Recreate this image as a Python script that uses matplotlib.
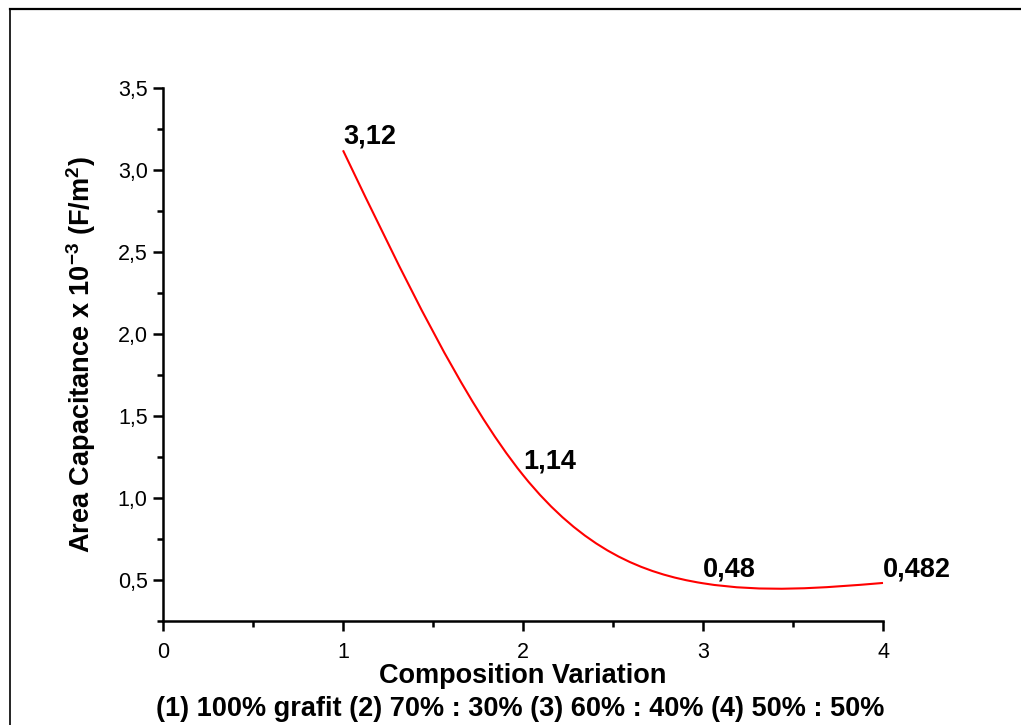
import numpy as np
import matplotlib
matplotlib.use("Agg")
import matplotlib.pyplot as plt
from matplotlib.path import Path
from matplotlib.patches import PathPatch
from matplotlib.lines import Line2D
from matplotlib.ticker import MultipleLocator, FuncFormatter

plt.rcParams['font.family'] = ['Liberation Sans', 'DejaVu Sans']
plt.rcParams['mathtext.fontset'] = 'custom'
plt.rcParams['mathtext.rm'] = 'Liberation Sans'
plt.rcParams['mathtext.bf'] = 'Liberation Sans:bold'
plt.rcParams['mathtext.it'] = 'Liberation Sans:italic'

# ---- data ----
composition = [1, 2, 3, 4]
capacitance = [3.12, 1.14, 0.48, 0.482]
point_labels = ["3,12", "1,14", "0,48", "0,482"]
x_ticks = [0, 1, 2, 3, 4]
y_ticks = [0.5, 1.0, 1.5, 2.0, 2.5, 3.0, 3.5]
x_label = "Composition Variation"
x_note = "(1) 100% grafit (2) 70% : 30% (3) 60% : 40% (4) 50% : 50%"
y_label = r"Area Capacitance x 10$^{\mathbf{-3}}$ (F/m$^{\mathbf{2}}$)"

BOLD = 19.5

fig = plt.figure(figsize=(10.21, 7.25), dpi=100)
ax = fig.add_axes([163/1021, 1-621/725, 720/1021, 533/725])

# smooth "spline" connection through the 4 data points (natural cubic spline
# rendered as Bezier segments in data coordinates)
xs = np.asarray(composition, float)
ys = np.asarray(capacitance, float)
n = len(xs)
h = np.diff(xs)
A = np.zeros((n, n)); b = np.zeros(n)
A[0, 0] = 1; A[-1, -1] = 1
for i in range(1, n-1):
    A[i, i-1] = h[i-1]; A[i, i] = 2*(h[i-1]+h[i]); A[i, i+1] = h[i]
    b[i] = 6*((ys[i+1]-ys[i])/h[i] - (ys[i]-ys[i-1])/h[i-1])
M = np.linalg.solve(A, b)
d = np.zeros(n)
for i in range(n-1):
    d[i] = (ys[i+1]-ys[i])/h[i] - h[i]*(2*M[i]+M[i+1])/6
d[-1] = (ys[-1]-ys[-2])/h[-1] + h[-1]*(M[-2]+2*M[-1])/6
verts = [(xs[0], ys[0])]
codes = [Path.MOVETO]
for i in range(n-1):
    verts += [(xs[i]+h[i]/3, ys[i]+d[i]*h[i]/3),
              (xs[i+1]-h[i]/3, ys[i+1]-d[i+1]*h[i]/3),
              (xs[i+1], ys[i+1])]
    codes += [Path.CURVE4]*3
ax.add_patch(PathPatch(Path(verts, codes), facecolor='none', edgecolor='#ff0000',
                       lw=1.5, clip_on=False))

for x, y, lab in zip(composition, capacitance, point_labels):
    ax.text(x, y+0.04, lab, ha='left', va='baseline', fontsize=BOLD,
            fontweight='bold', color='black')

ax.set_xlim(0, 4)
ax.set_ylim(0.25, 3.5)
ax.set_xticks(x_ticks)
ax.set_yticks(y_ticks)
ax.xaxis.set_minor_locator(MultipleLocator(0.5))
ax.yaxis.set_minor_locator(MultipleLocator(0.25))
ax.yaxis.set_major_formatter(FuncFormatter(lambda v, p: f"{v:.1f}".replace('.', ',')))
ax.xaxis.set_major_formatter(FuncFormatter(lambda v, p: f"{v:.0f}"))
for s in ['top', 'right']:
    ax.spines[s].set_visible(False)
for s in ['left', 'bottom']:
    ax.spines[s].set_linewidth(1.8)
ax.tick_params(which='major', direction='out', length=7, width=1.8,
               labelsize=15.5, color='black')
ax.tick_params(which='minor', direction='out', length=4, width=1.8)
ax.tick_params(axis='y', which='major', pad=4)
ax.tick_params(axis='x', which='major', pad=8)

fig.text(0.5122, 1-683/725, x_label, ha='center', va='baseline',
         fontsize=BOLD, fontweight='bold')
fig.text(0.5095, 1-716/725, x_note, ha='center', va='baseline',
         fontsize=BOLD, fontweight='bold')
fig.text(81/1021, 1-355/725, y_label, ha='center', va='center', rotation=90,
         fontsize=BOLD, fontweight='bold')

# page frame around the figure
fig.add_artist(Line2D([9.5/1021, 1.0], [1-9/725, 1-9/725], color='black', lw=1.6,
                      transform=fig.transFigure))
fig.add_artist(Line2D([9.5/1021, 9.5/1021], [0, 1-9/725], color='black', lw=1.2,
                      transform=fig.transFigure))

fig.savefig("out.png", dpi=100)
